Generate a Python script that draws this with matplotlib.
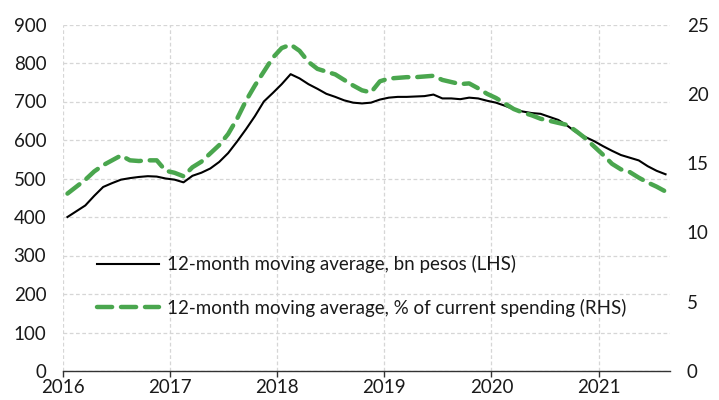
import numpy as np
import matplotlib
matplotlib.use('Agg')
import matplotlib.pyplot as plt
from matplotlib.lines import Line2D

plt.rcParams['font.family'] = ['Lato', 'DejaVu Sans']

# monthly data, Jan 2016 - Aug 2021
start_year = 2016
bn_pesos = [400, 415, 430, 455, 478, 488, 497, 501, 504, 506, 505, 500,
            497, 490, 507, 515, 526, 543, 566, 596, 628, 662, 700, 722,
            745, 771, 760, 745, 733, 720, 712, 703, 697, 695, 697, 705,
            710, 712, 712, 713, 714, 718, 708, 708, 706, 710, 708, 702,
            697, 689, 680, 674, 670, 668, 660, 652, 637, 620, 608, 597,
            584, 572, 561, 554, 547, 532, 520, 511]
pct_spending = [12.8, 13.3, 13.8, 14.4, 14.85, 15.2, 15.55, 15.2, 15.15, 15.2, 15.2, 14.45,
                14.3, 14.05, 14.7, 15.1, 15.7, 16.3, 17.1, 18.2, 19.5, 20.6, 21.6, 22.6,
                23.3, 23.55, 23.1, 22.3, 21.8, 21.6, 21.4, 21.0, 20.6, 20.25, 20.1, 20.9,
                21.1, 21.15, 21.2, 21.2, 21.25, 21.3, 21.0, 20.85, 20.7, 20.75, 20.4, 20.0,
                19.7, 19.3, 18.9, 18.65, 18.45, 18.2, 18.05, 17.9, 17.75, 17.3, 16.8, 16.2,
                15.6, 14.95, 14.55, 14.35, 13.95, 13.6, 13.3, 12.95]
label_lhs = '12-month moving average, bn pesos (LHS)'
label_rhs = '12-month moving average, % of current spending (RHS)'
years = [2016, 2017, 2018, 2019, 2020, 2021]

x = start_year + (np.arange(len(bn_pesos)) + 0.5) / 12

txt = '#1a1a1a'
green = '#4aa64e'
grid_c = '#d6d6d6'
fs = 13.5

fig = plt.figure(figsize=(7.19, 4.0), dpi=100)
ax = fig.add_axes([63/719, 1 - 371/400, 607/719, 346.5/400])
ax2 = ax.twinx()

ax.plot(x, bn_pesos, color='black', lw=1.5, zorder=3)
ax2.plot(x, pct_spending, color=green, lw=3.2, dashes=(3.4, 2.0),
         dash_capstyle='round', zorder=3)

ax.set_xlim(2016, 2016 + 68 / 12)
ax.set_ylim(0, 900)
ax2.set_ylim(0, 25)
ax.set_yticks(range(0, 901, 100))
ax2.set_yticks(range(0, 26, 5))
ax.set_xticks(years)
ax.set_xticklabels([str(y) for y in years])

for a in (ax, ax2):
    for s in ['top', 'left', 'right', 'bottom']:
        a.spines[s].set_visible(False)
ax.spines['bottom'].set_visible(True)
ax.spines['bottom'].set_color('#333333')
ax.spines['bottom'].set_linewidth(1.0)

ax.tick_params(axis='y', length=0, pad=12, labelsize=fs, labelcolor=txt)
ax2.tick_params(axis='y', length=0, pad=12, labelsize=fs, labelcolor=txt)
ax.tick_params(axis='x', length=4, width=1, color='#333333', pad=2,
               labelsize=fs, labelcolor=txt)

ax.grid(True, color=grid_c, linestyle=(0, (3, 2)), linewidth=0.9, zorder=0)
ax.set_axisbelow(True)

handles = [Line2D([], [], color='black', lw=1.5),
           Line2D([], [], color=green, lw=3.2, dashes=(3.4, 2.0),
                  dash_capstyle='round')]
leg = ax.legend(handles, [label_lhs, label_rhs], loc='center left',
                bbox_to_anchor=(34/607, 0.245), frameon=False, fontsize=fs,
                handlelength=3.3, handletextpad=0.45, labelspacing=1.35,
                borderpad=0, borderaxespad=0)
for t in leg.get_texts():
    t.set_color(txt)

fig.savefig('out.png', dpi=100)
